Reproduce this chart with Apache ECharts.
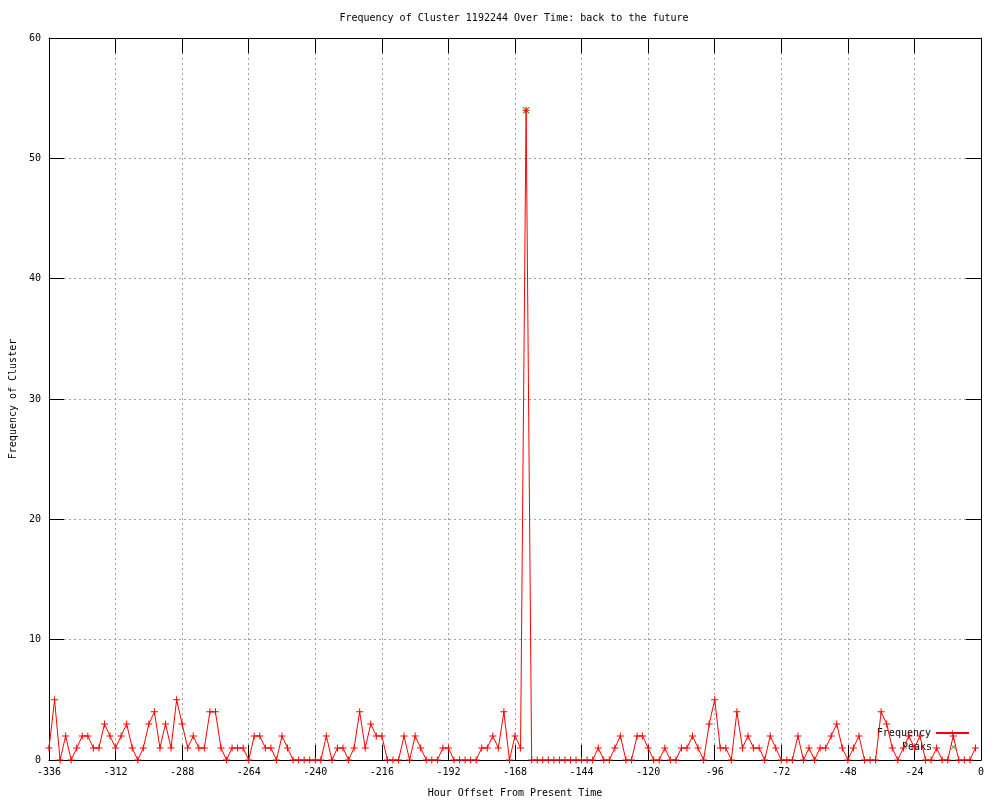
<!DOCTYPE html>
<html>
<head>
<meta charset="utf-8">
<script src="https://cdn.jsdelivr.net/npm/echarts@6/dist/echarts.min.js"></script>
<style>
html,body{margin:0;padding:0;background:#fff;}
#chart{width:1000px;height:800px;}
</style>
</head>
<body>
<div id="chart"></div>
<script>
// Hour offsets (every 2 hours from -336 to -2)
const hours = [];
for (let h = -336; h <= -2; h += 2) hours.push(h);

// Frequency values, one per hour offset above
const frequency = [
  1,5,0,2,0,1,2,2,1,1, 3,2,1,2,3,1,0,1,3,4,
  1,3,1,5,3,1,2,1,1,4, 4,1,0,1,1,1,0,2,2,1,
  1,0,2,1,0,0,0,0,0,0, 2,0,1,1,0,1,4,1,3,2,
  2,0,0,0,2,0,2,1,0,0, 0,1,1,0,0,0,0,0,1,1,
  2,1,4,0,2,1,54,0,0,0, 0,0,0,0,0,0,0,0,0,1,
  0,0,1,2,0,0,2,2,1,0, 0,1,0,0,1,1,2,1,0,3,
  5,1,1,0,4,1,2,1,1,0, 2,1,0,0,0,2,0,1,0,1,
  1,2,3,1,0,1,2,0,0,0, 4,3,1,0,1,2,1,2,0,0,
  1,0,0,2,0,0,0,1
];

// Detected peaks
const peakHours = [-164];
const peakValues = [54];

const xTicks = { min: -336, max: 0, interval: 24 };
const yTicks = { min: 0, max: 60, interval: 10 };

const freqData = hours.map((h, i) => [h, frequency[i]]);
const peakData = peakHours.map((h, i) => [h, peakValues[i]]);

const FONT = 'DejaVu Sans Mono';
const plus = 'path://M3,0 H4 V3 H7 V4 H4 V7 H3 V4 H0 V3 H3 Z';
const cross = 'path://M0,0.7 L0.7,0 L3.5,2.8 L6.3,0 L7,0.7 L4.2,3.5 L7,6.3 L6.3,7 L3.5,4.2 L0.7,7 L0,6.3 L2.8,3.5 Z';

const gridLine = { show: true, lineStyle: { color: '#a0a0a0', width: 1, type: [2, 3] } };
const frameLine = { show: true, onZero: false, lineStyle: { color: '#000', width: 1 } };
const tick = { show: true, inside: true, length: 15, lineStyle: { color: '#000', width: 1 } };

const chart = echarts.init(document.getElementById('chart'), null, { renderer: 'canvas' });
chart.setOption({
  animation: false,
  backgroundColor: '#fff',
  textStyle: { fontFamily: FONT, fontSize: 10, color: '#000' },
  title: {
    text: 'Frequency of Cluster 1192244 Over Time: back to the future',
    left: 509, top: 8, textAlign: 'center',
    textStyle: { fontFamily: FONT, fontSize: 10, fontWeight: 'normal', color: '#000' }
  },
  grid: { left: 49, right: 19, top: 38, bottom: 40, containLabel: false, outerBoundsMode: 'none' },
  legend: [
    {
      data: ['Frequency'], right: 30, top: 728, orient: 'vertical', align: 'right', padding: 0,
      itemWidth: 33, itemHeight: 7, selectedMode: false,
      textStyle: { fontFamily: FONT, fontSize: 10, color: '#000' }
    },
    {
      data: ['Peaks'], right: 30, top: 742, orient: 'vertical', align: 'right', padding: 0,
      itemWidth: 33, itemHeight: 7, selectedMode: false,
      textStyle: { fontFamily: FONT, fontSize: 10, color: '#000' }
    }
  ],
  xAxis: [
    {
      type: 'value', position: 'bottom', min: xTicks.min, max: xTicks.max, interval: xTicks.interval,
      name: 'Hour Offset From Present Time', nameLocation: 'middle', nameGap: 28,
      nameTextStyle: { fontFamily: FONT, fontSize: 10, color: '#000' },
      axisLine: frameLine, axisTick: tick, splitLine: gridLine,
      axisLabel: { margin: 7, fontFamily: FONT, fontSize: 10, color: '#000', showMinLabel: true, showMaxLabel: true }
    },
    {
      type: 'value', position: 'top', min: xTicks.min, max: xTicks.max, interval: xTicks.interval,
      axisLine: frameLine, axisTick: tick, splitLine: { show: false }, axisLabel: { show: false }
    }
  ],
  yAxis: [
    {
      type: 'value', position: 'left', min: yTicks.min, max: yTicks.max, interval: yTicks.interval,
      name: 'Frequency of Cluster', nameLocation: 'middle', nameGap: 31, nameRotate: 90,
      nameTextStyle: { fontFamily: FONT, fontSize: 10, color: '#000' },
      axisLine: frameLine, axisTick: tick, splitLine: gridLine,
      axisLabel: { margin: 8, fontFamily: FONT, fontSize: 10, color: '#000' }
    },
    {
      type: 'value', position: 'right', min: yTicks.min, max: yTicks.max, interval: yTicks.interval,
      axisLine: frameLine, axisTick: tick, splitLine: { show: false }, axisLabel: { show: false }
    }
  ],
  series: [
    {
      name: 'Peaks', type: 'line', data: peakData, z: 3,
      symbol: cross, symbolSize: 7, showSymbol: true,
      itemStyle: { color: '#00b000' },
      lineStyle: { width: 0, opacity: 0 }
    },
    {
      name: 'Frequency', type: 'line', data: freqData, z: 4,
      symbol: plus, symbolSize: 7, showAllSymbol: true,
      itemStyle: { color: '#ff0000' },
      lineStyle: { color: '#ff0000', width: 1 }
    }
  ]
});
</script>
</body>
</html>
